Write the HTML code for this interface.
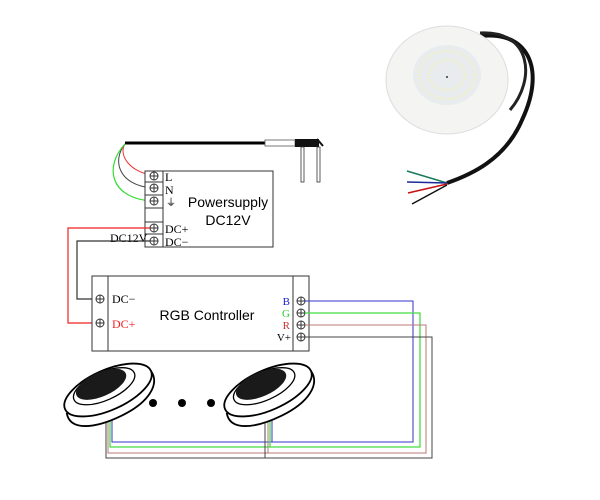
<!DOCTYPE html>
<html><head><style>
html,body{margin:0;padding:0;background:#fff;}
svg{display:block;}
text{font-family:"Liberation Serif",serif;}
.s{font-family:"Liberation Sans",sans-serif;}
</style></head><body>
<svg width="600" height="500" viewBox="0 0 600 500" xmlns="http://www.w3.org/2000/svg">
<defs>
<g id="t"><circle r="4" fill="none" stroke="#333" stroke-width="1"/><line x1="-4" y1="0" x2="4" y2="0" stroke="#333"/><line x1="0" y1="-4" x2="0" y2="4" stroke="#333"/></g>
<g id="lamp">
 <g transform="rotate(-24)">
  <path d="M-47,4 C-52,22 -28,30 2,29 C32,28 50,16 47,0" fill="#fff" stroke="#000" stroke-width="1.8"/>
  <ellipse cx="0" cy="0" rx="47" ry="20" fill="#fff" stroke="#000" stroke-width="1.8"/>
  <ellipse cx="-2" cy="-5" rx="33" ry="14" fill="#fff" stroke="#000" stroke-width="1.3"/>
  <ellipse cx="-4" cy="-8" rx="27" ry="12" fill="#1a1a1a"/>
 </g>
</g>
</defs>

<!-- photo lamp -->
<path d="M470,38 C525,25 548,65 522,120 C505,160 470,175 447,183" fill="none" stroke="#111" stroke-width="4"/>
<path d="M480,33 C532,30 536,80 510,110" fill="none" stroke="#222" stroke-width="3"/>
<ellipse cx="447" cy="80" rx="61" ry="54" fill="#f4f4f2" stroke="#ddd"/>
<ellipse cx="447" cy="75" rx="34" ry="30" fill="#e8ecee"/>
<ellipse cx="447" cy="75" rx="28" ry="24" fill="none" stroke="#f0f0c8" stroke-width="3" stroke-dasharray="1.5 2"/>
<ellipse cx="447" cy="75" rx="18" ry="15" fill="none" stroke="#f0f0c8" stroke-width="3" stroke-dasharray="1.5 2"/>
<circle cx="447" cy="77" r="1" fill="#333"/>
<path d="M447,183 L407,171" stroke="#1a7a5a" stroke-width="1.5"/>
<path d="M447,183 L407,182" stroke="#1a2a9a" stroke-width="1.5"/>
<path d="M447,184 L408,193" stroke="#c81010" stroke-width="1.5"/>
<path d="M447,185 L412,204" stroke="#111" stroke-width="1.5"/>

<!-- mains cable and plug -->
<line x1="125" y1="143" x2="265" y2="143" stroke="#000" stroke-width="3"/>
<rect x="265" y="140" width="30" height="6" fill="#fff" stroke="#555" stroke-width="0.8"/>
<rect x="295" y="139" width="24" height="8" fill="#111"/>
<path d="M317,139 L323,146" stroke="#111" stroke-width="2"/>
<rect x="301" y="147" width="3" height="35" fill="#fff" stroke="#333" stroke-width="0.8"/>
<rect x="317" y="147" width="3" height="35" fill="#fff" stroke="#333" stroke-width="0.8"/>
<path d="M125,144 C118,155 130,172 152,175" fill="none" stroke="#e33" stroke-width="1"/>
<path d="M125,144 C112,160 118,185 152,188" fill="none" stroke="#444" stroke-width="1"/>
<path d="M125,144 C105,165 108,198 152,201" fill="none" stroke="#3d3" stroke-width="1.2"/>

<!-- power supply -->
<rect x="145" y="171" width="128" height="76" fill="#fff" stroke="#333" stroke-width="1"/>
<line x1="163" y1="171" x2="163" y2="247" stroke="#333"/>
<line x1="145" y1="182" x2="163" y2="182" stroke="#333"/>
<line x1="145" y1="195" x2="163" y2="195" stroke="#333"/>
<line x1="145" y1="208" x2="163" y2="208" stroke="#333"/>
<line x1="145" y1="222" x2="163" y2="222" stroke="#333"/>
<line x1="145" y1="234" x2="163" y2="234" stroke="#333"/>
<use href="#t" x="154" y="176"/><use href="#t" x="154" y="188"/><use href="#t" x="154" y="201"/>
<use href="#t" x="154" y="228"/><use href="#t" x="154" y="241"/>
<text x="165" y="181" font-size="12">L</text>
<text x="165" y="194" font-size="12">N</text>
<text x="166" y="206" font-size="10">⏚</text>
<text x="165" y="233" font-size="12">DC+</text>
<text x="165" y="246" font-size="12">DC−</text>
<text class="s" x="228" y="207" font-size="14" text-anchor="middle">Powersupply</text>
<text class="s" x="228" y="225" font-size="14" text-anchor="middle">DC12V</text>
<text x="110" y="242" font-size="12">DC12V</text>

<!-- DC wires -->
<polyline points="150,228 68,228 68,323 96,323" fill="none" stroke="#e22" stroke-width="1.2"/>
<polyline points="150,241 77,241 77,299 96,299" fill="none" stroke="#333" stroke-width="1.2"/>

<!-- controller -->
<rect x="92" y="276" width="217" height="75" fill="#fff" stroke="#333"/>
<line x1="108" y1="276" x2="108" y2="351" stroke="#333"/>
<line x1="293" y1="276" x2="293" y2="351" stroke="#333"/>
<use href="#t" x="100" y="299"/><use href="#t" x="100" y="323"/>
<text x="112" y="303" font-size="12">DC−</text>
<text x="112" y="328" font-size="12" fill="#e22">DC+</text>
<text class="s" x="207" y="320" font-size="14" text-anchor="middle">RGB Controller</text>
<text x="290" y="305" font-size="11" fill="#22c" text-anchor="end">B</text>
<text x="290" y="317" font-size="11" fill="#2c2" text-anchor="end">G</text>
<text x="290" y="329" font-size="11" fill="#c33" text-anchor="end">R</text>
<text x="291" y="341" font-size="11" text-anchor="end">V+</text>
<use href="#t" x="301" y="301"/><use href="#t" x="301" y="313"/><use href="#t" x="301" y="325"/><use href="#t" x="301" y="337"/>

<!-- output wires -->
<polyline points="305,301 413,301 413,442 112,442 112,415" fill="none" stroke="#33c" stroke-width="1"/>
<polyline points="305,313 420,313 420,447 110,447 110,415" fill="none" stroke="#4d4" stroke-width="1.3"/>
<polyline points="305,325 426,325 426,453 108,453 108,415" fill="none" stroke="#b77" stroke-width="1"/>
<polyline points="305,337 432,337 432,458 106,458 106,415" fill="none" stroke="#444" stroke-width="1"/>
<line x1="272" y1="442" x2="272" y2="415" stroke="#33c"/>
<line x1="270" y1="447" x2="270" y2="415" stroke="#4d4" stroke-width="1.3"/>
<line x1="268" y1="453" x2="268" y2="415" stroke="#b77"/>
<line x1="265" y1="458" x2="265" y2="415" stroke="#444"/>

<!-- lamps -->
<use href="#lamp" x="108" y="390"/>
<use href="#lamp" x="268" y="390"/>
<circle cx="153" cy="403" r="4" fill="#000"/>
<circle cx="182" cy="403" r="4" fill="#000"/>
<circle cx="211" cy="403" r="4" fill="#000"/>
</svg>
</body></html>
